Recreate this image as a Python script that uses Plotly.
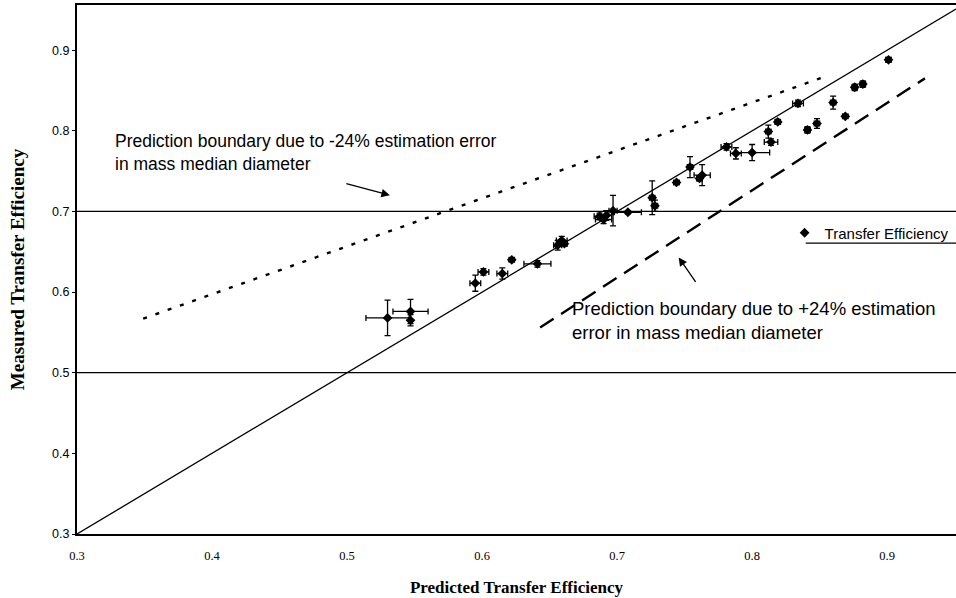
import plotly.graph_objects as go

# Measured vs predicted transfer efficiency
pred = [0.530, 0.547, 0.547, 0.595, 0.601, 0.615, 0.622, 0.641, 0.656, 0.659,
        0.661, 0.687, 0.692, 0.697, 0.690, 0.708, 0.726, 0.728, 0.744, 0.754,
        0.763, 0.761, 0.781, 0.788, 0.800, 0.812, 0.814, 0.819, 0.834, 0.841,
        0.848, 0.860, 0.869, 0.876, 0.882, 0.901]
meas = [0.568, 0.576, 0.565, 0.611, 0.625, 0.623, 0.640, 0.635, 0.658, 0.664,
        0.660, 0.694, 0.695, 0.701, 0.690, 0.699, 0.717, 0.707, 0.736, 0.755,
        0.745, 0.741, 0.780, 0.772, 0.773, 0.799, 0.786, 0.811, 0.834, 0.801,
        0.809, 0.835, 0.818, 0.854, 0.858, 0.888]
pred_err = [0.016, 0.013, 0.000, 0.004, 0.004, 0.004, 0.002, 0.010, 0.003, 0.004,
            0.002, 0.004, 0.004, 0.003, 0.006, 0.010, 0.002, 0.002, 0.002, 0.002,
            0.006, 0.002, 0.004, 0.004, 0.013, 0.002, 0.005, 0.002, 0.004, 0.002,
            0.002, 0.002, 0.002, 0.002, 0.002, 0.002]
meas_err = [0.022, 0.015, 0.007, 0.010, 0.004, 0.007, 0.002, 0.004, 0.006, 0.005,
            0.003, 0.004, 0.006, 0.019, 0.005, 0.002, 0.021, 0.007, 0.002, 0.013,
            0.013, 0.003, 0.004, 0.007, 0.010, 0.008, 0.004, 0.003, 0.004, 0.004,
            0.006, 0.008, 0.002, 0.004, 0.004, 0.003]

# Reference lines
ideal_x = [0.3, 0.951]             # predicted = measured line
ideal_y = [0.3, 0.951]
lower_bound_x = [0.349, 0.857]     # -24% estimation error boundary (dotted)
lower_bound_y = [0.567, 0.869]
upper_bound_x = [0.643, 0.928]     # +24% estimation error boundary (dashed)
upper_bound_y = [0.556, 0.865]
hlines = [0.5, 0.7]

x_ticks = [0.3, 0.4, 0.5, 0.6, 0.7, 0.8, 0.9]
x_ticktext = ["0.3", "0.4", "0.5", "0.6", "0.7", "0.8", "0.9"]
y_ticks = [0.3, 0.4, 0.5, 0.6, 0.7, 0.8, 0.9]
y_ticktext = ["0.3", "0.4", "0.5", "0.6", "0.7", "0.8", "0.9"]

fig = go.Figure()

fig.add_trace(go.Scatter(x=ideal_x, y=ideal_y, mode="lines",
                         line=dict(color="black", width=1.3), showlegend=False,
                         hoverinfo="skip"))
fig.add_trace(go.Scatter(x=lower_bound_x, y=lower_bound_y, mode="lines",
                         line=dict(color="black", width=2.4, dash="4px,9px"),
                         showlegend=False, hoverinfo="skip"))
fig.add_trace(go.Scatter(x=upper_bound_x, y=upper_bound_y, mode="lines",
                         line=dict(color="black", width=2.4, dash="16px,9px"),
                         showlegend=False, hoverinfo="skip"))

fig.add_trace(go.Scatter(
    x=pred, y=meas, mode="markers", name="Transfer Efficiency",
    marker=dict(symbol="diamond", size=7.5, color="black"),
    error_x=dict(type="data", array=pred_err, color="black", thickness=1.3, width=3),
    error_y=dict(type="data", array=meas_err, color="black", thickness=1.3, width=3),
))

for h in hlines:
    fig.add_shape(type="line", xref="paper", x0=0, x1=1, yref="y", y0=h, y1=h,
                  line=dict(color="black", width=1.2), layer="below")

# legend underline
fig.add_shape(type="line", xref="paper", yref="paper", x0=0.829, x1=1.0,
              y0=0.550, y1=0.550, line=dict(color="black", width=1.2))

fig.add_annotation(x=0.3266, y=0.773, xref="x", yref="y",
                   text="Prediction boundary due to -24% estimation error<br>in mass median diameter",
                   showarrow=False, xanchor="left", yanchor="middle", align="left",
                   font=dict(family="Liberation Sans, Arial", size=17.5, color="black"))
fig.add_annotation(x=0.5317, y=0.720, xref="x", yref="y", text="",
                   showarrow=True, ax=-45, ay=-12, arrowhead=2, arrowsize=1.3,
                   arrowwidth=1.3, arrowcolor="black")
fig.add_annotation(x=0.665, y=0.565, xref="x", yref="y",
                   text="Prediction boundary due to +24% estimation<br>error in mass median diameter",
                   showarrow=False, xanchor="left", yanchor="middle", align="left",
                   font=dict(family="Liberation Sans, Arial", size=18.5, color="black"))
fig.add_annotation(x=0.7456, y=0.643, xref="x", yref="y", text="",
                   showarrow=True, ax=18, ay=26, arrowhead=2, arrowsize=1.3,
                   arrowwidth=1.3, arrowcolor="black")

fig.update_layout(
    width=956, height=598,
    margin=dict(l=77, r=0, t=5, b=64),
    paper_bgcolor="white", plot_bgcolor="white",
    font=dict(family="Liberation Sans, Arial", size=12, color="black"),
    legend=dict(x=0.805, y=0.569, xanchor="left", yanchor="middle",
                bgcolor="rgba(255,255,255,0)", font=dict(size=15),
                itemwidth=30, tracegroupgap=0),
    xaxis=dict(range=[0.3, 0.951], tickvals=x_ticks, ticktext=x_ticktext,
               automargin=True, ticklabelstandoff=9,
               showgrid=False, zeroline=False, showline=True, linecolor="black",
               linewidth=2, mirror=True, ticks="",
               tickfont=dict(family="Liberation Serif, Times New Roman", size=12.5),
               title=dict(text="<b>Predicted Transfer Efficiency</b>", standoff=19,
                          font=dict(family="Liberation Serif, Times New Roman", size=17))),
    yaxis=dict(range=[0.3, 0.956], tickvals=y_ticks, ticktext=y_ticktext,
               automargin=True,
               showgrid=False, zeroline=False, showline=True, linecolor="black",
               linewidth=2, ticks="outside", ticklen=3, tickcolor="black",
               tickfont=dict(family="Liberation Sans, Arial", size=12.5),
               title=dict(text="<b>Measured Transfer Efficiency</b>", standoff=22,
                          font=dict(family="Liberation Serif, Times New Roman", size=19))),
)

fig.write_html("out.html", config={"displayModeBar": False},
               post_script="document.body.style.margin='0';")
